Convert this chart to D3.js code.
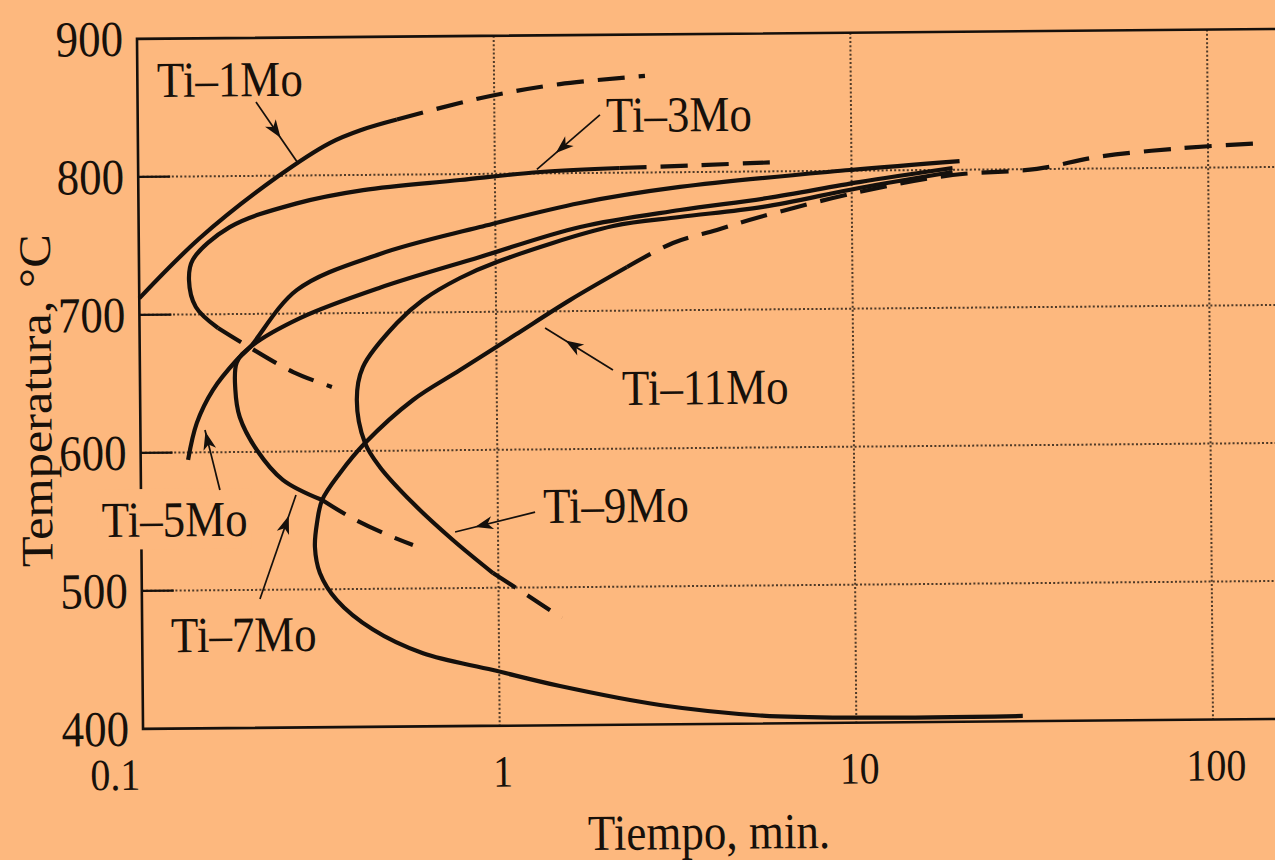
<!DOCTYPE html>
<html>
<head>
<meta charset="utf-8">
<script src="https://cdn.jsdelivr.net/npm/d3@7"></script>
<style>
  html, body { margin: 0; padding: 0; background: #fdb87e; }
  svg { display: block; }
  .serif { font-family: "Liberation Serif", "DejaVu Serif", serif; fill: #17100a; }
</style>
</head>
<body>
<div id="chart"></div>
<script>
// ticks
var yTicks = [400, 500, 600, 700, 800, 900];
var xTicks = [0.1, 1, 10, 100];
var xTickLabels = ["0.1", "1", "10", "100"];

// [tiempo (min), temperatura (°C)]
var ti1Solid = [[0.1, 712], [0.1484, 755.3], [0.245, 799], [0.346, 823.5], [0.425, 832.8], [0.533, 840]];
var ti1Dash = [[0.533, 840], [0.8, 851.5], [1.04, 857.8], [1.53, 864.6], [2.65, 870]];

var ti3Solid = [[0.166, 690], [0.144, 705.4], [0.138, 724.9], [0.1416, 739.6], [0.18, 763], [0.278, 779.8],
    [0.427, 789], [0.798, 795.7], [1.34, 801], [2.24, 803.4]];
var ti3DashLow = [[0.166, 690], [0.194, 679], [0.269, 657.6], [0.345, 646.6]];
var ti3DashHigh = [[2.24, 803.4], [3.76, 805], [6.3, 806.7]];

var ti5Solid = [[0.1358, 594.7], [0.144, 621.4], [0.16, 645.1], [0.187, 666.7], [0.204, 676], [0.277, 717.1],
    [0.474, 742.6], [0.905, 761.5], [1.73, 778.3], [3.3, 789.3], [9.89, 800.5], [20.1, 806.3]];

var ti7Solid = [[0.322, 564.7], [0.25, 579.6], [0.212, 601.2], [0.19, 625.4], [0.185, 645], [0.187, 665],
    [0.204, 676], [0.282, 696.7], [0.473, 718.2], [0.904, 739.8], [1.73, 760.9], [3.3, 772.6],
    [5.79, 780.7], [10.5, 791.7], [19.2, 801.3]];
var ti7Dash = [[0.322, 564.7], [0.385, 552.3], [0.489, 539.1], [0.577, 531.5]];

var ti9Solid = [[0.966, 510.7], [0.747, 534.9], [0.578, 561.9], [0.468, 588.3], [0.426, 605.7], [0.405, 637],
    [0.422, 660.8], [0.527, 692.5], [0.624, 709], [0.794, 724.7], [1.008, 736.1], [2.14, 761.4],
    [3.29, 767.5], [5.63, 774.3], [10.5, 787.4], [19.2, 798.4]];
var ti9Dash = [[0.966, 510.7], [1.201, 494.6], [1.504, 477.7]];

var ti11Solid = [[29.3, 403.8], [10.24, 403.6], [5.37, 405.8], [2.82, 414], [1.479, 428.4], [0.961, 440.4],
    [0.612, 453], [0.4436, 470.5], [0.352, 492.1], [0.316, 511.9], [0.3065, 530.7], [0.311, 548.1],
    [0.322, 564.7], [0.362, 584.2], [0.426, 605.7], [0.582, 636.6], [0.79, 658], [1.128, 683],
    [1.612, 708], [2.335, 731.6]];
var ti11Dash = [[2.335, 731.6], [3.145, 748.7], [4.18, 757.9], [5.52, 767], [10.5, 784.5], [19.2, 796.2],
    [33.1, 800.1], [48.8, 808.3], [85, 814.3], [146, 817.5]];

var curves = [
    {pts: ti1Solid}, {pts: ti1Dash, dash: true},
    {pts: ti3Solid}, {pts: ti3DashLow, dash: true}, {pts: ti3DashHigh, dash: true},
    {pts: ti5Solid},
    {pts: ti7Solid}, {pts: ti7Dash, dash: true},
    {pts: ti9Solid}, {pts: ti9Dash, dash: true},
    {pts: ti11Solid}, {pts: ti11Dash, dash: true}
];

// labels: text anchor, arrow from -> to (all in data units), head = where the barb sits
var notes = [
    {text: "Ti–1Mo", at: [0.1134, 857.8], from: [0.2148, 853.5], to: [0.279, 810], head: 0.6},
    {text: "Ti–3Mo", at: [2.054, 829.6], from: [1.977, 842], to: [1.312, 803], head: 0.7},
    {text: "Ti–11Mo", at: [2.243, 631.7], from: [2.12, 657.1], to: [1.371, 688], head: 0.7},
    {text: "Ti–9Mo", at: [1.339, 546.7], from: [1.272, 554.6], to: [0.758, 540.7], head: 0.75},
    {text: "Ti–5Mo", at: [0.0775, 539.3], from: [0.1665, 572.6], to: [0.1517, 616.2], head: 0.97, mask: true},
    {text: "Ti–7Mo", at: [0.1203, 455.4], from: [0.2143, 493.3], to: [0.272, 568.5], head: 0.8}
];

var width = 1275, height = 860;
var plotLeft = 140, plotTop = 34, plotBottom = 724, farRight = 1300;
var bg = "#fdb87e", ink = "#15100c";
var stretch = "scale(1,1.12)";

var x = d3.scaleLog().domain([0.1, 100]).range([plotLeft, 1210]);
var y = d3.scaleLinear().domain([400, 900]).range([plotBottom, plotTop]);

var svg = d3.select("#chart").append("svg")
    .attr("width", width)
    .attr("height", height);

svg.append("rect").attr("width", width).attr("height", height).attr("fill", bg);

// the scanned page sits slightly tilted
var g = svg.append("g").attr("transform", "rotate(-0.5,700,380)");

var inner = yTicks.filter(function (d) { return d > 400 && d < 900; });

// dotted grid
g.selectAll(".hgrid")
    .data(inner)
    .enter().append("line")
    .attr("x1", plotLeft).attr("x2", farRight)
    .attr("y1", function (d) { return y(d); })
    .attr("y2", function (d) { return y(d); })
    .attr("stroke", ink).attr("stroke-width", 2)
    .attr("stroke-dasharray", "2,2.2").attr("opacity", 0.75);

g.selectAll(".vgrid")
    .data(xTicks.slice(1))
    .enter().append("line")
    .attr("x1", function (d) { return x(d); })
    .attr("x2", function (d) { return x(d); })
    .attr("y1", plotTop).attr("y2", plotBottom)
    .attr("stroke", ink).attr("stroke-width", 2)
    .attr("stroke-dasharray", "2,2.2").attr("opacity", 0.75);

// short solid ticks inside the frame
g.selectAll(".ytick")
    .data(inner)
    .enter().append("line")
    .attr("x1", plotLeft).attr("x2", plotLeft + 32)
    .attr("y1", function (d) { return y(d); })
    .attr("y2", function (d) { return y(d); })
    .attr("stroke", ink).attr("stroke-width", 2.4);

// frame (open on the right, runs off the page)
g.append("path")
    .attr("d", "M" + farRight + "," + plotTop + "H" + plotLeft + "V" + plotBottom + "H" + farRight)
    .attr("fill", "none").attr("stroke", ink).attr("stroke-width", 2.6);

// tick labels
g.selectAll(".ylab")
    .data(yTicks)
    .enter().append("text")
    .attr("class", "serif")
    .attr("transform", function (d) { return "translate(" + (plotLeft - 14) + "," + y(d) + ")" + stretch; })
    .attr("y", 15)
    .attr("text-anchor", "end")
    .style("font-size", "45px")
    .text(function (d) { return d; });

g.selectAll(".xlab")
    .data(xTicks)
    .enter().append("text")
    .attr("class", "serif")
    .attr("transform", function (d, i) {
        var px = i === 0 ? x(d) - 3 : x(d) + 3;
        return "translate(" + px + "," + (plotBottom + 61) + ")" + stretch;
    })
    .attr("text-anchor", function (d, i) { return i === 0 ? "end" : "middle"; })
    .style("font-size", "40px")
    .text(function (d, i) { return xTickLabels[i]; });

// axis titles
g.append("text")
    .attr("class", "serif")
    .attr("transform", "translate(51,395)" + stretch + "rotate(-90)")
    .attr("text-anchor", "middle")
    .style("font-size", "45px")
    .text("Temperatura, °C");

g.append("text")
    .attr("class", "serif")
    .attr("transform", "translate(705,849)" + stretch)
    .attr("text-anchor", "middle")
    .style("font-size", "45px")
    .text("Tiempo, min.");

// curves
var line = d3.line()
    .x(function (d) { return x(d[0]); })
    .y(function (d) { return y(d[1]); })
    .curve(d3.curveCatmullRom.alpha(0.5));

g.selectAll(".curve")
    .data(curves)
    .enter().append("path")
    .attr("class", "curve")
    .attr("d", function (d) { return line(d.pts); })
    .attr("fill", "none")
    .attr("stroke", ink)
    .attr("stroke-width", 4.2)
    .attr("stroke-linecap", "butt")
    .attr("stroke-dasharray", function (d) { return d.dash ? "27,14" : null; });

// labels with their arrows
notes.forEach(function (n) {
    var lg = g.append("g")
        .attr("transform", "translate(" + x(n.at[0]) + "," + y(n.at[1]) + ")" + stretch);
    var t = lg.append("text")
        .attr("class", "serif")
        .style("font-size", "45px")
        .text(n.text);
    if (n.mask) {
        var b = t.node().getBBox();
        lg.insert("rect", "text")
            .attr("x", b.x - 4).attr("y", b.y - 2)
            .attr("width", b.width + 8).attr("height", b.height + 4)
            .attr("fill", bg);
    }

    var x1 = x(n.from[0]), y1 = y(n.from[1]), x2 = x(n.to[0]), y2 = y(n.to[1]);
    g.append("line")
        .attr("x1", x1).attr("y1", y1).attr("x2", x2).attr("y2", y2)
        .attr("stroke", ink).attr("stroke-width", 1.7);

    var len = Math.hypot(x2 - x1, y2 - y1);
    var ux = (x2 - x1) / len, uy = (y2 - y1) / len;
    var nx = -uy, ny = ux;
    var hx = x1 + (x2 - x1) * n.head, hy = y1 + (y2 - y1) * n.head;
    var L = 18, w = 6.5, notch = 5;
    var head = [
        [hx, hy],
        [hx - L * ux + w * nx, hy - L * uy + w * ny],
        [hx - (L - notch) * ux, hy - (L - notch) * uy],
        [hx - L * ux - w * nx, hy - L * uy - w * ny]
    ];
    g.append("path")
        .attr("d", "M" + head.map(function (p) { return p[0].toFixed(1) + "," + p[1].toFixed(1); }).join("L") + "Z")
        .attr("fill", ink);
});
</script>
</body>
</html>
